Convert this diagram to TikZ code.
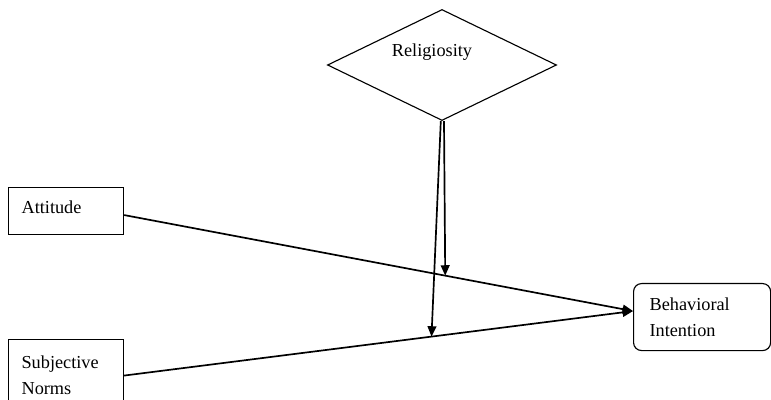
\documentclass[tikz,border=0pt]{standalone}
\usepackage{fontspec}
\setmainfont{Liberation Serif}
\usetikzlibrary{positioning, arrows.meta, shapes.geometric, calc}

\begin{document}
\begin{tikzpicture}[x=0.025cm, y=-0.025cm,
  var/.style={rectangle, draw, line width=0.8pt, anchor=north west, align=left, font=\fontsize{13}{18.5}\selectfont, inner xsep=0.325cm, inner ysep=0pt, text width=2.225cm, minimum width=2.875cm},
  outc/.style={var, rounded corners=0.2cm, inner xsep=0.4cm, text width=2.625cm, minimum width=3.425cm},
  moder/.style={diamond, draw, line width=0.8pt, minimum width=5.725cm, minimum height=2.775cm, inner sep=0pt},
  link/.style={-{Triangle[length=2.6mm, width=2.2mm]}, line width=1.2pt}
]
\useasboundingbox (0,0) rectangle (771,400);
\clip (0,0) rectangle (771,400);

% ===== Constructs =====
\node[moder, label={[font=\fontsize{13}{18.5}\selectfont, xshift=-0.25cm, yshift=0.33cm]center:Religiosity}] (rel) at (442,65) {};
\node[var, minimum height=1.175cm, text depth=0.2cm] (att) at (8,187) {Attitude};
\node[var, minimum height=1.8cm] (sn) at (8,339) {Subjective\\Norms};
\node[outc, minimum height=1.675cm] (bi) at (633,283) {Behavioral\\Intention};

% ===== Paths =====
\draw[link] ([yshift=-0.1cm]att.east) -- coordinate[pos=0.631] (hitA) ([yshift=0.15cm]bi.west);
\draw[link] (sn.east) -- coordinate[pos=0.604] (hitS) ([yshift=0.15cm]bi.west);

% moderation
\draw[link] ([xshift=0.05cm]rel.south) -- (hitA);
\draw[link] ([xshift=-0.03cm]rel.south) -- (hitS);

\end{tikzpicture}
\end{document}
